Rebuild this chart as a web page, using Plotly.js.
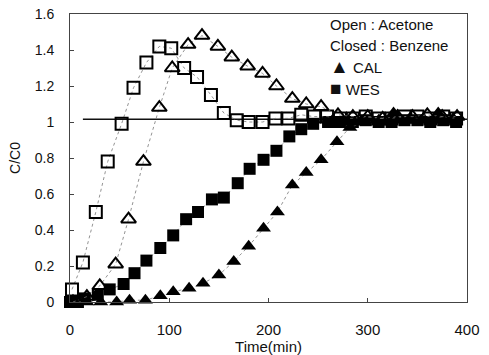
<!DOCTYPE html>
<html>
<head>
<meta charset="utf-8">
<script src="https://cdn.plot.ly/plotly-3.0.1.min.js"></script>
<style>html,body{margin:0;padding:0;background:#fff;}#chart{width:489px;height:355px;}</style>
</head>
<body>
<div id="chart"></div>
<script>
// Acetone, WES (open squares)
const acWesT = [2, 13, 26, 38, 52, 64, 77, 90, 102, 115, 128, 142, 155, 168, 180, 194, 207, 220, 233, 246, 259, 272, 285, 298, 311, 324, 337, 350, 363, 376, 389];
const acWesV = [0.07, 0.22, 0.50, 0.78, 0.99, 1.19, 1.33, 1.42, 1.41, 1.30, 1.25, 1.15, 1.05, 1.01, 1.00, 1.00, 1.02, 1.02, 1.04, 1.03, 1.03, 1.02, 1.02, 1.03, 1.02, 1.02, 1.03, 1.03, 1.02, 1.03, 1.02];
// Acetone, CAL (open triangles)
const acCalT = [3, 17, 30, 46, 59, 74, 90, 103, 119, 133, 149, 163, 179, 194, 208, 224, 238, 253, 270, 285, 300, 315, 330, 345, 360, 375, 390];
const acCalV = [0.0, 0.03, 0.09, 0.21, 0.46, 0.78, 1.08, 1.30, 1.43, 1.48, 1.42, 1.36, 1.31, 1.27, 1.20, 1.13, 1.10, 1.085, 1.04, 1.03, 1.03, 1.02, 1.03, 1.03, 1.04, 1.03, 1.03];
// Benzene, WES (closed squares)
const bzWesT = [0, 8, 15, 28, 40, 54, 65, 77, 91, 104, 117, 129, 143, 155, 169, 181, 195, 208, 221, 233, 245, 260, 272, 285, 298, 311, 324, 337, 350, 363, 376, 389];
const bzWesV = [0.0, 0.0, 0.02, 0.04, 0.07, 0.10, 0.16, 0.23, 0.30, 0.37, 0.46, 0.50, 0.57, 0.58, 0.66, 0.74, 0.79, 0.84, 0.92, 0.96, 0.99, 1.0, 1.0, 1.0, 1.01, 1.0, 1.0, 1.01, 1.01, 1.0, 1.01, 1.0];
// Benzene, CAL (closed triangles)
const bzCalT = [2, 17, 31, 47, 60, 76, 91, 104, 120, 134, 150, 165, 180, 195, 209, 224, 238, 253, 269, 282, 297, 311, 326, 341, 356, 371, 386];
const bzCalV = [0.0, 0.0, 0.0, 0.0, 0.01, 0.01, 0.035, 0.057, 0.076, 0.104, 0.15, 0.225, 0.31, 0.41, 0.50, 0.65, 0.72, 0.79, 0.89, 0.97, 1.0, 1.01, 1.05, 1.01, 1.02, 1.05, 1.02];
// Reference line C/C0 = 1
const refT = [13, 400];
const refV = [1.015, 1.015];

const yTicks = [0, 0.2, 0.4, 0.6, 0.8, 1, 1.2, 1.4, 1.6];
const yTickText = ['0', '0.2', '0.4', '0.6', '0.8', '1', '1.2', '1.4', '1.6'];
const xTicks = [0, 100, 200, 300, 400];
const xTickText = ['0', '100', '200', '300', '400'];

const lineStyle = {color: '#777', width: 0.8, dash: 'dot'};
const FONT = 'Liberation Sans, Arial, sans-serif';

const traces = [
  {x: refT, y: refV, mode: 'lines', line: {color: '#111', width: 1.5}, hoverinfo: 'skip'},
  {x: bzWesT, y: bzWesV, mode: 'lines+markers', line: lineStyle, cliponaxis: false,
   marker: {symbol: 'square', size: 12, color: '#000'}},
  {x: bzCalT, y: bzCalV, mode: 'lines+markers', line: lineStyle, cliponaxis: false,
   marker: {symbol: 'triangle-up', size: 13, color: '#000'}},
  {x: acWesT, y: acWesV, mode: 'lines+markers', line: lineStyle, cliponaxis: false,
   marker: {symbol: 'square-open', size: 12, color: '#000', line: {width: 2}}},
  {x: acCalT, y: acCalV, mode: 'lines+markers', line: lineStyle, cliponaxis: false,
   marker: {symbol: 'triangle-up-open', size: 13, color: '#000', line: {width: 2}}}
];

const legendLines = ['Open : Acetone', 'Closed : Benzene',
  '<span style="font-size:19px">\u25B2</span> CAL', '<span style="font-size:19px">\u25A0</span> WES'];
const legendY = [0.965, 0.892, 0.816, 0.743];
const annotations = legendLines.map((t, i) => ({
  xref: 'paper', yref: 'paper', x: 0.65, y: legendY[i], xanchor: 'left', yanchor: 'middle',
  text: t, showarrow: false, font: {family: FONT, size: 15, color: '#111'}
}));

const layout = {
  width: 489, height: 355,
  margin: {l: 70, r: 22, t: 14, b: 53},
  paper_bgcolor: '#fff', plot_bgcolor: '#fff',
  showlegend: false,
  font: {family: FONT, color: '#111'},
  xaxis: {
    range: [0, 400], tickvals: xTicks, ticktext: xTickText,
    ticks: 'inside', ticklen: 4, tickcolor: '#444',
    showline: true, linecolor: '#444', linewidth: 1, mirror: true,
    showgrid: false, zeroline: false,
    tickfont: {size: 15, family: FONT, color: '#111'},
    ticklabelstandoff: 14,
    title: {text: 'Time(min)', font: {size: 15, family: FONT, color: '#111'}, standoff: 2}
  },
  yaxis: {
    range: [0, 1.6], tickvals: yTicks, ticktext: yTickText,
    ticks: 'inside', ticklen: 4, tickcolor: '#444',
    showline: true, linecolor: '#444', linewidth: 1, mirror: true,
    showgrid: false, zeroline: false,
    tickfont: {size: 14, family: FONT, color: '#111'},
    ticklabelstandoff: 12,
    title: {text: 'C/C0', font: {size: 14, family: FONT, color: '#111'}, standoff: 10}
  },
  annotations: annotations
};

Plotly.newPlot('chart', traces, layout, {staticPlot: true, displayModeBar: false});
</script>
</body>
</html>
